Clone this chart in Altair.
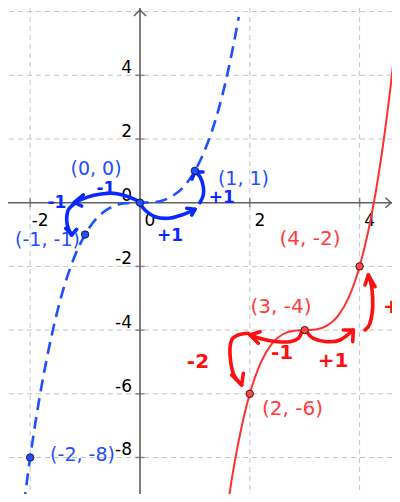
import altair as alt
import pandas as pd

# ---- scale domains (54.9 px per x unit, 31.85 px per y unit) ----
X_DOMAIN = [-2.404, 4.590]
Y_DOMAIN = [-9.146, 6.113]

# ---- curves ----
blue_x = [-2.2, -2.0, -1.8, -1.6, -1.4, -1.2, -1.0, -0.8, -0.6, -0.4, -0.2, 0.0,
          0.2, 0.4, 0.6, 0.8, 1.0, 1.2, 1.4, 1.6, 1.8]
blue_y = [-10.65, -8.0, -5.83, -4.10, -2.74, -1.73, -1.0, -0.51, -0.22, -0.06, -0.01, 0.0,
          0.01, 0.06, 0.22, 0.51, 1.0, 1.73, 2.74, 4.10, 5.83]
red_x = [1.5, 1.6, 1.7, 1.8, 1.9, 2.0, 2.2, 2.4, 2.6, 2.8, 3.0, 3.2, 3.4, 3.6, 3.8,
         4.0, 4.2, 4.4, 4.6, 4.8]
red_y = [-10.75, -9.49, -8.39, -7.46, -6.66, -6.0, -5.02, -4.43, -4.13, -4.02, -4.0,
         -3.98, -3.87, -3.57, -2.98, -2.0, -0.54, 1.49, 4.19, 7.66]

# ---- marked points and their labels ----
blue_pts_x = [0, 1, -1, -2]
blue_pts_y = [0, 1, -1, -8]
blue_labels = ["(0, 0)", "(1, 1)", "(-1, -1)", "(-2, -8)"]
blue_label_x = [-0.80, 1.885, -1.685, -1.047]
blue_label_y = [1.05, 0.74, -1.17, -7.92]

red_pts_x = [2, 3, 4]
red_pts_y = [-6, -4, -2]
red_labels = ["(2, -6)", "(3, -4)", "(4, -2)"]
red_label_x = [2.778, 2.568, 3.097]
red_label_y = [-6.48, -3.28, -1.14]

# ---- grid & ticks ----
grid_x = [-2, 2, 4]
grid_y = [-8, -6, -4, -2, 2, 4, 6]
xtick_vals = [-2, 0, 2, 4]
ytick_vals = [-8, -6, -4, -2, 0, 2, 4]
xtick_text = ["-2", "0", "2", "4"]
ytick_text = ["-8", "-6", "-4", "-2", "0", "2", "4"]

# ---- axis arrow heads ----
yarrow_x = [-0.11, 0.0, 0.11]
yarrow_y = [5.86, 6.05, 5.86]
xarrow_x = [4.470, 4.575, 4.470]
xarrow_y = [0.157, 0.0, -0.157]

# ---- hand-drawn step arrows (curve part) ----
blue_strokes = {
    "b_left": ([0.0, -0.213, -0.515, -0.820, -1.062, -1.197],
               [0.013, 0.188, 0.295, 0.242, 0.107, 0.013]),
    "b_down": ([-1.184, -1.306, -1.335, -1.306, -1.244],
               [-0.019, -0.229, -0.543, -0.804, -1.014]),
    "b_right": ([0.0, 0.091, 0.273, 0.515, 0.760, 1.002],
                [-0.019, -0.229, -0.440, -0.490, -0.386, -0.207]),
    "b_up": ([1.093, 1.153, 1.153, 1.093, 1.002],
             [0.0, 0.242, 0.502, 0.816, 0.973]),
}
blue_heads = {
    "b_left": ([-1.033, -1.197, -1.062], [0.242, 0.013, -0.104]),
    "b_down": ([-1.353, -1.244, -1.153], [-0.804, -1.014, -0.835]),
    "b_right": ([0.851, 1.002, 0.942], [-0.176, -0.207, -0.386]),
    "b_up": ([0.947, 1.002, 1.148], [0.744, 0.973, 0.964]),
}
red_strokes = {
    "r_left": ([2.945, 2.883, 2.732, 2.490, 2.246, 2.004],
               [-4.050, -4.257, -4.364, -4.364, -4.289, -4.154]),
    "r_down": ([1.973, 1.791, 1.670, 1.639, 1.699, 1.852],
               [-4.101, -4.154, -4.311, -4.728, -5.356, -5.724]),
    "r_right": ([3.036, 3.157, 3.401, 3.643, 3.885],
                [-4.050, -4.257, -4.364, -4.311, -3.997]),
    "r_up": ([4.098, 4.189, 4.239, 4.220, 4.158],
             [-3.997, -3.787, -3.265, -2.637, -2.270]),
}
red_heads = {
    "r_left": ([2.186, 2.004, 2.155], [-4.050, -4.154, -4.414]),
    "r_down": ([1.670, 1.852, 1.882], [-5.410, -5.724, -5.356]),
    "r_right": ([3.703, 3.885, 3.874], [-3.997, -3.997, -4.364]),
    "r_up": ([4.098, 4.158, 4.281], [-2.584, -2.270, -2.637]),
}

# ---- hand-written step labels ----
blue_hand_text = ["-1", "-1", "+1", "+1"]
blue_hand_x = [-0.619, -1.512, 0.546, 1.49]
blue_hand_y = [0.42, 0.0, -1.03, 0.15]
red_hand_text = ["-1", "+1", "-2"]
red_hand_x = [2.587, 3.515, 1.056]
red_hand_y = [-4.72, -4.97, -5.00]
red_edge_text = ["+2"]
red_edge_x = [4.426]
red_edge_y = [-3.28]

# ---- colours ----
BLUE = "#1f4fff"
BLUE_HAND = "#0a28ff"
RED = "#ff3030"
RED_HAND = "#ff0f0f"
RED_LABEL = "#ff3b3b"
FONT = "DejaVu Sans"

X = alt.X("x:Q", scale=alt.Scale(domain=X_DOMAIN, nice=False, zero=False), axis=None)
Y = alt.Y("y:Q", scale=alt.Scale(domain=Y_DOMAIN, nice=False, zero=False), axis=None)


def paths_df(d):
    rows = []
    for k, (xs, ys) in d.items():
        for i, (a, b) in enumerate(zip(xs, ys)):
            rows.append({"id": k, "o": i, "x": a, "y": b})
    return pd.DataFrame(rows)


def poly_df(xs, ys, name):
    return pd.DataFrame({"id": name, "o": list(range(len(xs))), "x": xs, "y": ys})


layers = []

# grid
layers.append(alt.Chart(pd.DataFrame({"x": grid_x})).mark_rule(
    color="#c4c4c4", strokeWidth=1, strokeDash=[5, 4]).encode(x=X))
layers.append(alt.Chart(pd.DataFrame({"y": grid_y})).mark_rule(
    color="#c4c4c4", strokeWidth=1, strokeDash=[5, 4]).encode(y=Y))

# axes
layers.append(alt.Chart(pd.DataFrame({"x": [0]})).mark_rule(
    color="#5f5f5f", strokeWidth=1.6).encode(x=X))
layers.append(alt.Chart(pd.DataFrame({"y": [0]})).mark_rule(
    color="#5f5f5f", strokeWidth=1.6).encode(y=Y))
arrows = pd.concat([poly_df(yarrow_x, yarrow_y, "ya"), poly_df(xarrow_x, xarrow_y, "xa")])
layers.append(alt.Chart(arrows).mark_line(color="#5f5f5f", strokeWidth=1.5, clip=True).encode(
    x=X, y=Y, detail="id:N", order="o:Q"))

# ticks
layers.append(alt.Chart(pd.DataFrame({"x": [0] * len(ytick_vals), "y": ytick_vals})).mark_tick(
    orient="horizontal", size=9, thickness=1.5, color="#5f5f5f").encode(x=X, y=Y))
layers.append(alt.Chart(pd.DataFrame({"x": xtick_vals, "y": [0] * len(xtick_vals)})).mark_tick(
    orient="vertical", size=9, thickness=1.5, color="#5f5f5f").encode(x=X, y=Y))

# tick labels
layers.append(alt.Chart(pd.DataFrame({"x": xtick_vals, "y": [0] * len(xtick_vals), "t": xtick_text}))
              .mark_text(font=FONT, fontSize=17, color="#000000", align="center",
                         baseline="alphabetic", dx=10, dy=23)
              .encode(x=X, y=Y, text="t:N"))
layers.append(alt.Chart(pd.DataFrame({"x": [0] * len(ytick_vals), "y": ytick_vals, "t": ytick_text}))
              .mark_text(font=FONT, fontSize=17, color="#000000", align="right",
                         baseline="alphabetic", dx=-8, dy=-2)
              .encode(x=X, y=Y, text="t:N"))

# curves
layers.append(alt.Chart(pd.DataFrame({"x": blue_x, "y": blue_y})).mark_line(
    color=BLUE, strokeWidth=2.6, strokeDash=[12, 7], interpolate="monotone", clip=True)
    .encode(x=X, y=Y))
layers.append(alt.Chart(pd.DataFrame({"x": red_x, "y": red_y})).mark_line(
    color=RED, strokeWidth=2, interpolate="monotone", clip=True)
    .encode(x=X, y=Y))

# hand-drawn arrows
layers.append(alt.Chart(paths_df(blue_strokes)).mark_line(
    color=BLUE_HAND, strokeWidth=3.6, interpolate="cardinal", strokeCap="round",
    strokeJoin="round", clip=True).encode(x=X, y=Y, detail="id:N", order="o:Q"))
layers.append(alt.Chart(paths_df(blue_heads)).mark_line(
    color=BLUE_HAND, strokeWidth=3.6, strokeCap="round", strokeJoin="round", clip=True)
    .encode(x=X, y=Y, detail="id:N", order="o:Q"))
layers.append(alt.Chart(paths_df(red_strokes)).mark_line(
    color=RED_HAND, strokeWidth=3.6, interpolate="cardinal", strokeCap="round",
    strokeJoin="round", clip=True).encode(x=X, y=Y, detail="id:N", order="o:Q"))
layers.append(alt.Chart(paths_df(red_heads)).mark_line(
    color=RED_HAND, strokeWidth=3.6, strokeCap="round", strokeJoin="round", clip=True)
    .encode(x=X, y=Y, detail="id:N", order="o:Q"))

# hand-written numbers
layers.append(alt.Chart(pd.DataFrame({"x": blue_hand_x, "y": blue_hand_y, "t": blue_hand_text}))
              .mark_text(font=FONT, fontSize=17, fontWeight="bold", color=BLUE_HAND,
                         align="center", baseline="middle")
              .encode(x=X, y=Y, text="t:N"))
layers.append(alt.Chart(pd.DataFrame({"x": red_hand_x, "y": red_hand_y, "t": red_hand_text}))
              .mark_text(font=FONT, fontSize=20, fontWeight="bold", color=RED_HAND,
                         align="center", baseline="middle")
              .encode(x=X, y=Y, text="t:N"))
layers.append(alt.Chart(pd.DataFrame({"x": red_edge_x, "y": red_edge_y, "t": red_edge_text}))
              .mark_text(font=FONT, fontSize=20, fontWeight="bold", color=RED_HAND,
                         align="left", baseline="middle", clip=True)
              .encode(x=X, y=Y, text="t:N"))

# points
layers.append(alt.Chart(pd.DataFrame({"x": blue_pts_x, "y": blue_pts_y})).mark_point(
    filled=True, size=55, fill=BLUE, stroke="#1a1a40", strokeWidth=1, opacity=1)
    .encode(x=X, y=Y))
layers.append(alt.Chart(pd.DataFrame({"x": red_pts_x, "y": red_pts_y})).mark_point(
    filled=True, size=55, fill="#ff4a4a", stroke="#3a1a1a", strokeWidth=1, opacity=1)
    .encode(x=X, y=Y))

# point labels
layers.append(alt.Chart(pd.DataFrame({"x": blue_label_x, "y": blue_label_y, "t": blue_labels}))
              .mark_text(font=FONT, fontSize=19, color=BLUE, align="center", baseline="middle")
              .encode(x=X, y=Y, text="t:N"))
layers.append(alt.Chart(pd.DataFrame({"x": red_label_x, "y": red_label_y, "t": red_labels}))
              .mark_text(font=FONT, fontSize=20, color=RED_LABEL, align="center", baseline="middle")
              .encode(x=X, y=Y, text="t:N"))

chart = alt.layer(*layers).properties(
    width=384, height=486, padding=0, autosize=alt.AutoSizeParams(type="none"),
    background="#ffffff",
).configure_view(stroke=None)

chart.save("out.html", embed_options={"renderer": "svg", "actions": False})
